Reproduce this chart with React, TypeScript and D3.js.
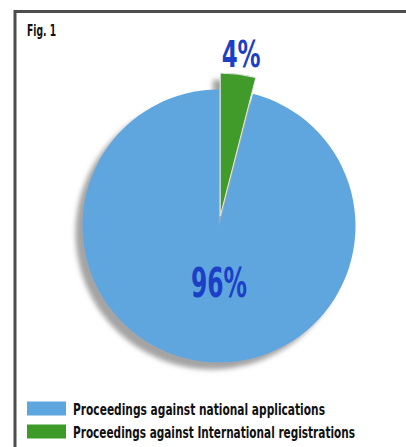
import React from "react";
import * as d3 from "d3";

// Share of opposition proceedings by type of mark
const categories = [
  "Proceedings against national applications",
  "Proceedings against International registrations",
];
const values = [96, 4];
const sliceLabels = ["96%", "4%"];
const colors = ["#5ea6df", "#3f9b29"];

const W = 406;
const H = 447;
const cx = 219;
const cy = 226;
const R = 136.5;
const FONT = "'Liberation Sans Narrow', 'DejaVu Sans Condensed', 'Liberation Sans', sans-serif";

// condensed type: horizontal squeeze plus exact fitted width
const SQUEEZE = 0.78;

function Condensed(props: {
  x: number;
  y: number;
  width: number;
  size: number;
  fill: string;
  anchor?: "start" | "middle";
  children: React.ReactNode;
}) {
  const { x, y, width, size, fill, anchor = "start", children } = props;
  return (
    <text
      transform={`translate(${x},${y}) scale(${SQUEEZE},1)`}
      textAnchor={anchor}
      fontFamily={FONT}
      fontWeight="bold"
      fontSize={size}
      fill={fill}
      textLength={width / SQUEEZE}
      lengthAdjust="spacingAndGlyphs"
    >
      {children}
    </text>
  );
}

export default function App() {
  const total = d3.sum(values);
  const smallAngle = (2 * Math.PI * values[1]) / total;
  const pie = d3
    .pie<number>()
    .sort(null)
    .value((d) => d)
    .startAngle(smallAngle)
    .endAngle(smallAngle + 2 * Math.PI);
  const arcs = pie(values);

  const mainArc = d3.arc<d3.PieArcDatum<number>>().innerRadius(0).outerRadius(R);
  const bigArc = d3.arc<d3.PieArcDatum<number>>().innerRadius(0).outerRadius(R + 6.5);

  // exploded wedge offset along its bisector
  const g = arcs[1];
  const mid = (g.startAngle + g.endAngle) / 2;
  const explode = 10;
  const ex = Math.sin(mid) * explode;
  const ey = -Math.cos(mid) * explode;

  // label positions
  const mainLabelY = cy + 71;
  const smallLabelR = R + 22;
  const slX = Math.sin(mid) * smallLabelR * 0.95 + ex + 2;

  return (
    <svg
      width={W}
      height={H}
      style={{ position: "absolute", left: 0, top: 0, background: "#fff" }}
    >
      <defs>
        <filter id="shadow" x="-20%" y="-20%" width="140%" height="140%">
          <feDropShadow dx={-7} dy={7} stdDeviation={2.5} floodColor="#9a9a9a" floodOpacity={0.9} />
        </filter>
      </defs>

      {/* frame (top and left edges; the rest runs past the page) */}
      <path d={`M15,${H} V11.5 H${W}`} fill="none" stroke="#4d4d4d" strokeWidth={3} />

      <Condensed x={27} y={36} width={29} size={15} fill="#111">
        Fig. 1
      </Condensed>

      <g transform={`translate(${cx},${cy})`} filter="url(#shadow)">
        <path d={mainArc(arcs[0]) || ""} fill={colors[0]} />
        <g transform={`translate(${ex},${ey})`}>
          <path d={bigArc(g) || ""} fill={colors[1]} stroke="#e8e8e8" strokeWidth={1} />
        </g>
      </g>

      <Condensed x={cx} y={mainLabelY} width={56} size={41} fill="#1c3fc6" anchor="middle">
        {sliceLabels[0]}
      </Condensed>
      <Condensed x={cx + slX} y={67} width={39} size={38} fill="#1c3fc6" anchor="middle">
        {sliceLabels[1]}
      </Condensed>

      {/* legend */}
      {categories.map((c, i) => {
        const y = 401.5 + i * 23;
        return (
          <g key={c}>
            <rect x={27} y={y} width={39} height={14} fill={colors[i]} />
            <Condensed x={73} y={y + 13} width={i === 0 ? 252 : 282} size={15} fill="#111">
              {c}
            </Condensed>
          </g>
        );
      })}
    </svg>
  );
}
